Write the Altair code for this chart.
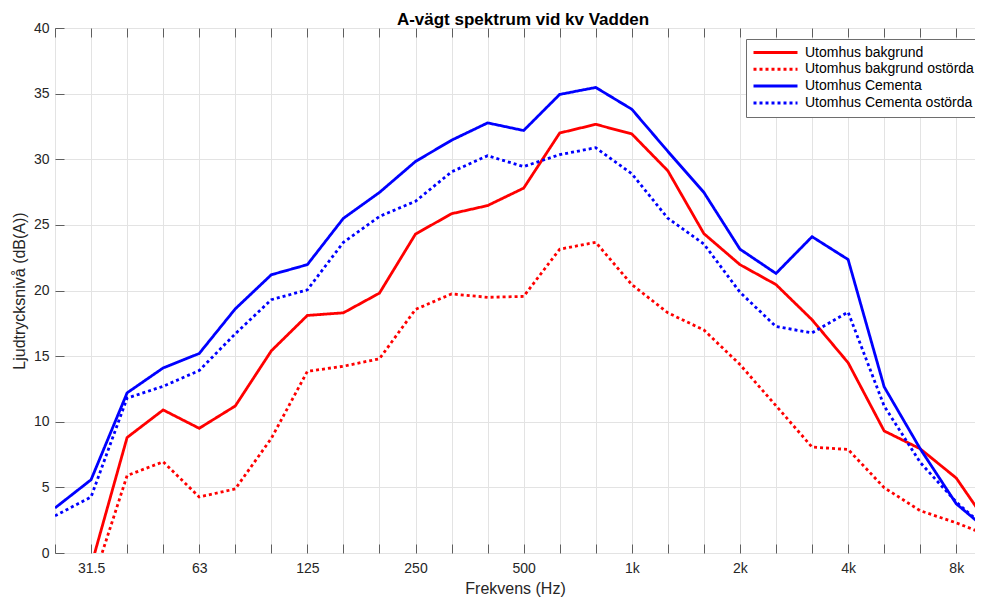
import altair as alt
import pandas as pd

# Third-octave band centre frequencies (index 0 = 25 Hz)
bands = ["25", "31.5", "40", "50", "63", "80", "100", "125", "160", "200", "250",
         "315", "400", "500", "630", "800", "1k", "1.25k", "1.6k", "2k", "2.5k",
         "3.15k", "4k", "5k", "6.3k", "8k", "10k"]
shown_labels = ["31.5", "63", "125", "250", "500", "1k", "2k", "4k", "8k"]

series_names = ["Utomhus bakgrund", "Utomhus bakgrund ostörda",
                "Utomhus Cementa", "Utomhus Cementa ostörda"]

bakgrund = [-3.0, -1.0, 8.8, 10.9, 9.5, 11.2, 15.4, 18.1, 18.3, 19.8, 24.3,
            25.85, 26.47, 27.8, 32.0, 32.66, 31.93, 29.12, 24.33, 21.97, 20.45,
            17.77, 14.5, 9.3, 7.94, 5.71, 1.72]
bakgrund_ostorda = [-5.0, -2.6, 5.9, 6.95, 4.27, 4.88, 8.73, 13.84, 14.23, 14.8, 18.56,
                    19.74, 19.48, 19.55, 23.15, 23.67, 20.45, 18.3, 16.99, 14.36, 11.22,
                    8.07, 7.89, 4.98, 3.22, 2.3, 1.22]
cementa = [3.43, 5.58, 12.2, 14.1, 15.2, 18.6, 21.2, 21.97, 25.5, 27.47, 29.83,
           31.45, 32.77, 32.19, 34.94, 35.47, 33.81, 30.6, 27.47, 23.15, 21.3,
           24.1, 22.36, 12.66, 7.94, 3.75, 1.44]
cementa_ostorda = [2.83, 4.27, 11.8, 12.7, 13.9, 16.7, 19.3, 20.05, 23.67, 25.64, 26.8,
                   29.04, 30.27, 29.44, 30.35, 30.88, 28.9, 25.5, 23.54, 19.87, 17.25,
                   16.78, 18.35, 11.2, 6.9, 3.88, 1.48]

series_values = [bakgrund, bakgrund_ostorda, cementa, cementa_ostorda]
series_colors = ["#ff0000", "#ff0000", "#0000ff", "#0000ff"]
series_dash = [[1, 0], [3, 3], [1, 0], [3, 3]]

rows = []
for name, vals in zip(series_names, series_values):
    for i, v in enumerate(vals):
        rows.append({"idx": i, "band": bands[i], "value": v, "series": name})
df = pd.DataFrame(rows)

label_expr = " : ".join(
    f"datum.value == {bands.index(l)} ? '{l}'" for l in shown_labels
) + " : ''"

FONT = "Liberation Sans"
TXT = "#262626"
BOX = "#5f5f5f"
GRID = "#e3e3e3"

x_ticks = list(range(26))
y_ticks = list(range(0, 41, 5))

xs = alt.Scale(domain=[0, 25.52], nice=False, zero=False)
ys = alt.Scale(domain=[0, 40], nice=False, zero=False)

main_x_axis = alt.Axis(values=x_ticks, labelExpr=label_expr, ticks=False, tickSize=0,
                       domain=False, grid=True, gridColor=GRID, labelFont=FONT,
                       labelFontSize=14, labelColor=TXT, labelPadding=8,
                       title="Frekvens (Hz)", titleFont=FONT, titleFontSize=16,
                       titleFontWeight="normal", titleColor=TXT, titlePadding=5)
main_y_axis = alt.Axis(values=y_ticks, ticks=False, tickSize=0, domain=False, grid=True,
                       gridColor=GRID, labelFont=FONT, labelFontSize=14, labelColor=TXT,
                       labelPadding=6, title="Ljudtrycksnivå (dB(A))", titleFont=FONT,
                       titleFontSize=16, titleFontWeight="normal", titleColor=TXT,
                       titlePadding=6)

tick_bottom = alt.Axis(orient="bottom", offset=-9, tickSize=9, ticks=True, labels=False,
                       domain=False, grid=False, title=None, values=x_ticks,
                       tickColor=BOX, tickWidth=1)
tick_top = alt.Axis(orient="top", offset=-9, tickSize=9, ticks=True, labels=False,
                    domain=False, grid=False, title=None, values=x_ticks,
                    tickColor=BOX, tickWidth=1)
tick_left = alt.Axis(orient="left", offset=-9, tickSize=9, ticks=True, labels=False,
                     domain=False, grid=False, title=None, values=y_ticks,
                     tickColor=BOX, tickWidth=1)

lines = alt.Chart(df).mark_line(clip=True, strokeWidth=2.8).encode(
    x=alt.X("idx:Q", scale=xs, axis=main_x_axis),
    y=alt.Y("value:Q", scale=ys, axis=main_y_axis),
    color=alt.Color("series:N", scale=alt.Scale(domain=series_names, range=series_colors),
                    title=None),
    strokeDash=alt.StrokeDash("series:N",
                              scale=alt.Scale(domain=series_names, range=series_dash),
                              title=None),
)

ticks1 = alt.Chart(df).mark_point(opacity=0, clip=True).encode(
    x=alt.X("idx:Q", scale=xs, axis=tick_bottom),
    y=alt.Y("value:Q", scale=ys, axis=tick_left),
)
ticks2 = alt.Chart(df).mark_point(opacity=0, clip=True).encode(
    x=alt.X("idx:Q", scale=xs, axis=tick_top),
    y=alt.Y("value:Q", scale=ys, axis=None),
)

chart = alt.layer(lines, ticks1, ticks2).resolve_axis(
    x="independent", y="independent"
).properties(
    width=920,
    height=525,
    title=alt.TitleParams("A-vägt spektrum vid kv Vadden", font=FONT, fontSize=17,
                          fontWeight="bold", color="black", anchor="middle", offset=5,
                          baseline="alphabetic", dy=26, dx=8),
    autosize=alt.AutoSizeParams(type="none"),
    padding={"left": 47, "top": 20, "right": 0, "bottom": 46},
).configure_view(
    stroke=BOX, strokeWidth=1
).configure_legend(
    orient="none", legendX=691, legendY=11, padding=6, strokeColor="#6e6e6e",
    fillColor="white", symbolType="stroke", symbolSize=1936, symbolStrokeWidth=3,
    labelFont=FONT, labelFontSize=14, labelColor="black", clipHeight=15,
    rowPadding=1.8, labelOffset=6, labelLimit=400, direction="vertical"
)

chart.save("out.html", embed_options={"renderer": "svg", "actions": False})
